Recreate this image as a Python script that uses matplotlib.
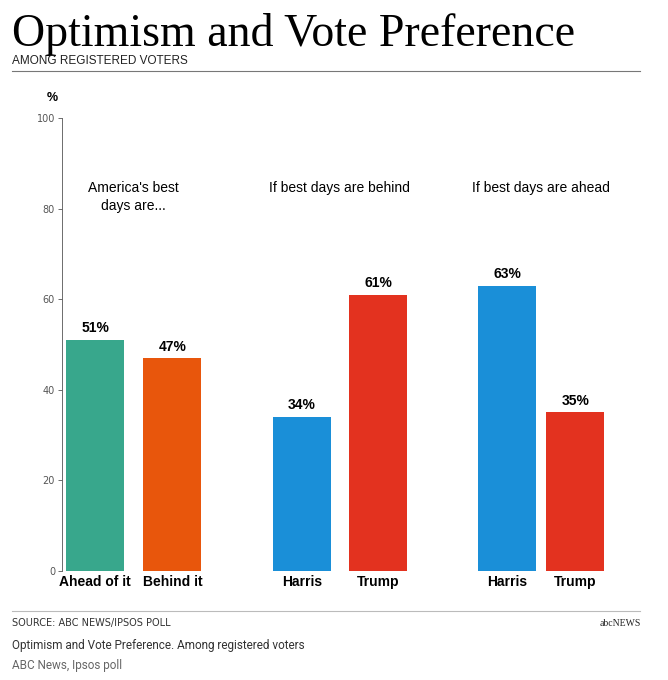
import matplotlib
matplotlib.use("Agg")
import matplotlib.pyplot as plt
from matplotlib.lines import Line2D

categories = ["Ahead of it", "Behind it", "Harris", "Trump", "Harris", "Trump"]
values = [51, 47, 34, 61, 63, 35]
labels = ["51%", "47%", "34%", "61%", "63%", "35%"]
group_titles = ["America's best\ndays are...", "If best days are behind", "If best days are ahead"]
yticks = [0, 20, 40, 60, 80, 100]

xpos = [0, 1, 2.68, 3.67, 5.34, 6.22]
colors = ["#38a78c", "#e8560c", "#1a8fd8", "#e3321f", "#1a8fd8", "#e3321f"]
group_x = [0.5, 3.17, 5.78]

W, H = 668, 680
fig = plt.figure(figsize=(W/100, H/100), dpi=100)
fig.patch.set_facecolor("white")
ax = fig.add_axes([62/W, (H-571)/H, (620-62)/W, (571-118)/H])
ax.bar(xpos, values, width=0.75, color=colors)
ax.set_xlim(-0.43, 6.8)
ax.set_ylim(0, 100)
ax.set_yticks(yticks)
ax.set_yticklabels([str(t) for t in yticks], fontsize=7, color="#555555")
ax.tick_params(axis="y", length=3, width=0.6, color="#555555", pad=2)
ax.set_xticks(xpos)
ax.set_xticklabels(categories, fontsize=10, fontweight="bold", fontfamily="Liberation Sans")
ax.tick_params(axis="x", length=0, pad=3)
for s in ["top", "right", "bottom"]:
    ax.spines[s].set_visible(False)
ax.spines["left"].set_linewidth(0.6)
ax.spines["left"].set_color("#555555")
for x, v, l in zip(xpos, values, labels):
    ax.text(x, v + 1, l, ha="center", va="bottom", fontsize=10, fontweight="bold", fontfamily="Liberation Sans")
for x, t in zip(group_x, group_titles):
    ax.text(x, 86, t, ha="center", va="top", fontsize=10, fontfamily="Liberation Sans", linespacing=1.3)
ax.text(-0.55, 103, "%", ha="center", va="bottom", fontsize=9, fontweight="bold", fontfamily="Liberation Sans")

fig.text(12/W, 1-46/H, "Optimism and Vote Preference", fontsize=33, fontfamily="Liberation Serif", va="baseline")
fig.text(12/W, 1-61/H, "AMONG REGISTERED VOTERS", fontsize=8.5, fontfamily="Liberation Sans", va="center", color="#222222")
fig.add_artist(Line2D([12/W, 640/W], [1-71/H, 1-71/H], color="#777777", lw=0.8))
fig.add_artist(Line2D([12/W, 640/W], [1-611/H, 1-611/H], color="#bbbbbb", lw=0.8))
fig.text(12/W, 1-623/H, "SOURCE: ABC NEWS/IPSOS POLL", fontsize=7, fontfamily="Liberation Sans Narrow", va="center", color="#333333")
fig.text(641/W, 1-623/H, "abcNEWS", fontsize=7, fontfamily="Liberation Serif", va="center", ha="right", color="#222222")
fig.text(12/W, 1-645/H, "Optimism and Vote Preference. Among registered voters", fontsize=8.5, fontfamily="Roboto", va="center", color="#333333")
fig.text(12/W, 1-665/H, "ABC News, Ipsos poll", fontsize=8.5, fontfamily="Roboto", va="center", color="#666666")

fig.savefig("out.png", dpi=100)
